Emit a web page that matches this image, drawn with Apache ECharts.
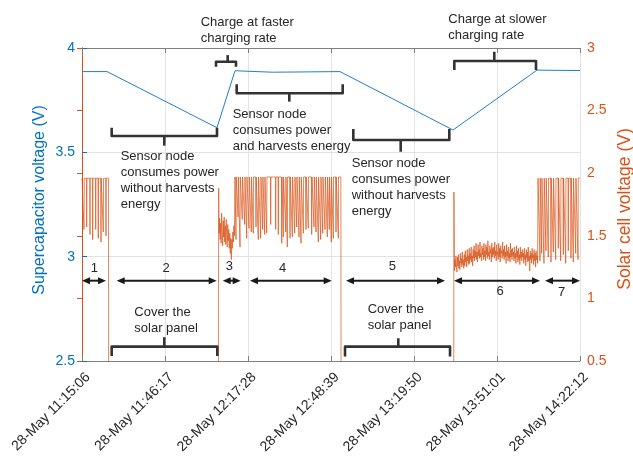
<!DOCTYPE html>
<html><head><meta charset="utf-8">
<script src="https://cdn.jsdelivr.net/npm/echarts@6/dist/echarts.min.js"></script>
<style>html,body{margin:0;padding:0;background:#fff}#c{width:633px;height:459px}</style>
</head><body><div id="c"></div>
<script>
// ---- time axis (seconds after 28-May 11:15:06) ----
const startSec = 40506;            // 11:15:06
const xTicks = [0, 1871, 3742, 5613, 7484, 9355, 11226];
const xMax = 11226;

// ---- supercapacitor voltage (left axis), [t, V] ----
const capTimes  = [0, 564, 3043, 3449, 4300, 5816, 8363, 10256, 11226];
const capValues = [3.887, 3.887, 3.618, 3.891, 3.884, 3.887, 3.607, 3.894, 3.892];

// ---- solar cell voltage (right axis) ----
const solarTop1 = 1.96, solarTop4 = 1.97, solarTop7 = 1.96, solarOff = 0.4;
const seg1SpikeT = [45, 106, 180, 241, 309, 367, 428, 480, 541];
const seg1SpikeV = [1.55, 1.57, 1.51, 1.47, 1.55, 1.48, 1.45, 1.53, 1.50];
const seg3Noise = [1.52,1.64,1.47,1.60,1.44,1.68,1.53,1.42,1.62,1.49,1.65,1.45,1.58,1.43,1.63,1.50,1.41,1.59,1.46,1.55,1.40,1.52,1.36,1.48,1.31,1.47,1.40,1.53,1.45,1.58,1.50];
const seg4SpikeT = [3471,3517,3562,3613,3668,3713,3765,3816,3861,3922,3974,4028,4073,4118,4163,4254,4366,4425,4502,4538,4592,4628,4689,4741,4795,4840,4892,4937,4989,5049,5101,5178,5230,5275,5327,5381,5426,5478,5530,5575,5620,5665,5726,5778];
const seg4SpikeV = [1.47,1.65,1.41,1.63,1.59,1.48,1.56,1.53,1.52,1.57,1.47,1.48,1.55,1.51,1.52,1.59,1.55,1.51,1.44,1.49,1.53,1.41,1.48,1.49,1.52,1.57,1.49,1.44,1.52,1.55,1.56,1.51,1.57,1.53,1.45,1.47,1.52,1.55,1.49,1.55,1.45,1.48,1.53,1.48];
const seg6Noise = [
1.22,1.31,1.25,1.34,1.27,1.21,1.33,1.26,1.35,1.24,1.30,1.23,1.36,1.28,1.32,1.25,1.37,1.27,1.31,1.24,
1.35,1.26,1.38,1.29,1.33,1.25,1.39,1.30,1.34,1.27,1.40,1.28,1.36,1.31,1.41,1.29,1.34,1.26,1.39,1.32,
1.42,1.30,1.38,1.33,1.44,1.31,1.37,1.29,1.43,1.34,1.39,1.32,1.45,1.33,1.36,1.30,1.42,1.35,1.40,1.31,
1.44,1.33,1.38,1.30,1.43,1.35,1.41,1.32,1.46,1.34,1.37,1.31,1.42,1.36,1.39,1.29,1.44,1.33,1.40,1.35,
1.41,1.32,1.45,1.34,1.38,1.30,1.43,1.35,1.37,1.31,1.44,1.33,1.40,1.29,1.42,1.36,1.38,1.32,1.45,1.34,
1.39,1.31,1.42,1.33,1.37,1.28,1.43,1.34,1.38,1.30,1.41,1.32,1.36,1.29,1.44,1.33,1.39,1.31,1.40,1.34,
1.37,1.30,1.41,1.32,1.36,1.28,1.42,1.33,1.38,1.29,1.40,1.31,1.35,1.27,1.41,1.32,1.37,1.30,1.39,1.33,
1.36,1.28,1.40,1.31,1.35,1.26,1.39,1.32,1.37,1.29,1.41,1.30,1.34,1.22,1.38,1.31,1.36,1.28,1.40,1.32,
1.35,1.27,1.39,1.30,1.36,1.25,1.38,1.31,1.34,1.28];
const seg7SpikeT = [10324,10362,10414,10459,10511,10572,10624,10678,10737,10791,10850,10904,10962,11023,11075,11129,11181];
const seg7SpikeV = [1.30,1.36,1.28,1.38,1.33,1.29,1.37,1.31,1.40,1.30,1.35,1.28,1.38,1.32,1.29,1.36,1.31];
// transition times / levels
const tCover1 = 597, tUncover1 = 3075, uncoverPeak1 = 1.88, tSeg3 = [3090, 3435], tSeg4 = 3449;
const tCover2 = 5835, tUncover2 = 8380, uncoverPeak2 = 1.85, tSeg6 = [8395, 10270], tSeg7 = 10280;

// ---- annotations (left-axis data units) ----
// braces: [x1, x2, xTip, yEnds, yBar, yTip]
const braces = [
  [3021, 3471, 3284, 3.910, 3.934, 3.966],
  [669, 3043, 1855, 3.618, 3.578, 3.532],
  [3487, 5877, 4673, 3.826, 3.783, 3.743],
  [6116, 8280, 7184, 3.612, 3.559, 3.503],
  [8393, 10234, 9294, 3.895, 3.938, 3.982],
  [669, 3050, 1855, 2.524, 2.569, 2.614],
  [5929, 8296, 7130, 2.521, 2.569, 2.609]
];
// arrows: [x1, x2, y]
const arrows = [
  [0, 541, 2.885], [782, 3036, 2.885], [3172, 3577, 2.885], [3787, 5629, 2.885],
  [5951, 8183, 2.885], [8386, 10324, 2.885], [10437, 11226, 2.885]
];
const phaseLabels = ['1','2','3','4','5','6','7'];
const phasePos = [[277,2.944],[1894,2.946],[3320,2.953],[4524,2.946],[6995,2.952],[9423,2.832],[10813,2.831]];
const noteTexts = [
  'Charge at faster\ncharging rate',
  'Sensor node\nconsumes power\nand harvests energy',
  'Sensor node\nconsumes power\nwithout harvests\nenergy',
  'Sensor node\nconsumes power\nwithout harvests\nenergy',
  'Charge at slower\ncharging rate',
  'Cover the\nsolar panel',
  'Cover the\nsolar panel'
];
const notePos = [[2676,4.121],[3397,3.684],[872,3.482],[6080,3.447],[8257,4.138],[1179,2.731],[6440,2.749]];

// ---- build series data ----
const capData = capTimes.map((t,i)=>[t, capValues[i]]);
function spikes(arr, ts, vs, top){ ts.forEach((t,i)=>{ arr.push([t-6, top],[t, vs[i]],[t+6, top]); }); }
function noise(arr, t0, t1, vs){ const n = vs.length; vs.forEach((v,i)=>arr.push([t0 + (t1-t0)*i/(n-1), v])); }
const solar = [[0, solarTop1]];
spikes(solar, seg1SpikeT, seg1SpikeV, solarTop1);
solar.push([tCover1, solarTop1],[tCover1+4, solarOff],[tUncover1, solarOff],[tUncover1+6, uncoverPeak1]);
noise(solar, tSeg3[0], tSeg3[1], seg3Noise);
solar.push([tSeg4, solarTop4]);
spikes(solar, seg4SpikeT, seg4SpikeV, solarTop4);
solar.push([tCover2, solarTop4],[tCover2+5, solarOff],[tUncover2, solarOff],[tUncover2+4, uncoverPeak2]);
noise(solar, tSeg6[0], tSeg6[1], seg6Noise);
solar.push([tSeg7, solarTop7]);
spikes(solar, seg7SpikeT, seg7SpikeV, solarTop7);
solar.push([xMax, solarTop7]);

const FONT = '"Liberation Sans", Arial, sans-serif';
const BLUE = '#0072BD', ORANGE = '#D95319', INK = '#262626';

function fmt(v){
  const s = Math.round(startSec + v);
  const h = Math.floor(s/3600), m = Math.floor((s%3600)/60), ss = s%60;
  const p = n => String(n).padStart(2,'0');
  return '28-May ' + p(h) + ':' + p(m) + ':' + p(ss);
}

const chart = echarts.init(document.getElementById('c'), null, {renderer:'canvas'});
chart.setOption({
  animation: false,
  backgroundColor: '#fff',
  grid: {left: 82, right: 53, top: 48, bottom: 98, containLabel: false, outerBoundsMode: 'none'},
  xAxis: [{
    type: 'value', min: 0, max: xMax, interval: 1871, position: 'bottom',
    axisLine: {lineStyle: {color: '#808080', width: 1}},
    axisTick: {inside: true, length: 5, lineStyle: {color: '#808080'}},
    axisLabel: {show: false},
    splitLine: {show: true, lineStyle: {color: '#e3e3e3', width: 1}}
  },{
    type: 'value', min: 0, max: xMax, interval: 1871, position: 'top',
    axisLine: {lineStyle: {color: '#808080', width: 1}},
    axisTick: {inside: true, length: 5, lineStyle: {color: '#808080'}},
    axisLabel: {show: false}, splitLine: {show: false}
  }],
  yAxis: [{
    type: 'value', min: 2.5, max: 4, interval: 0.5, position: 'left',
    name: 'Supercapacitor voltage (V)', nameLocation: 'middle', nameGap: 34, nameMoveOverlap: false,
    nameTextStyle: {color: BLUE, fontSize: 16, fontFamily: FONT, padding: [0, 0, 0, 9]},
    axisLine: {show: true, lineStyle: {color: BLUE}},
    axisTick: {show: true, inside: true, length: 5, lineStyle: {color: BLUE}},
    axisLabel: {color: BLUE, fontSize: 14, fontFamily: FONT, margin: 7},
    splitLine: {show: true, lineStyle: {color: '#e3e3e3'}}
  },{
    type: 'value', min: 0.5, max: 3, interval: 0.5, position: 'right',
    name: 'Solar cell voltage (V)', nameLocation: 'middle', nameGap: 36, nameMoveOverlap: false,
    nameTextStyle: {color: ORANGE, fontSize: 17.5, fontFamily: FONT, padding: [0, 9, 0, 0]},
    axisLine: {show: true, lineStyle: {color: ORANGE}},
    axisTick: {show: true, inside: true, length: 5, lineStyle: {color: ORANGE}},
    axisLabel: {color: ORANGE, fontSize: 14, fontFamily: FONT, margin: 7},
    splitLine: {show: false}
  }],
  series: [
    {type: 'line', name: 'solar', xAxisIndex: 0, yAxisIndex: 1, data: solar, showSymbol: false,
     sampling: null, lineStyle: {color: ORANGE, width: 0.7}, clip: true, z: 2},
    {type: 'line', name: 'cap', xAxisIndex: 0, yAxisIndex: 0, data: capData, showSymbol: false,
     lineStyle: {color: '#1f80c8', width: 1}, clip: true, z: 3},
    {type: 'custom', xAxisIndex: 0, yAxisIndex: 0, data: braces, z: 5, clip: false,
     renderItem: function(params, api){
       const a = api.coord([api.value(0), api.value(3)]), b = api.coord([api.value(0), api.value(4)]);
       const c = api.coord([api.value(1), api.value(4)]), d = api.coord([api.value(1), api.value(3)]);
       const m = api.coord([api.value(2), api.value(4)]), t = api.coord([api.value(2), api.value(5)]);
       const st = {stroke: '#333', lineWidth: 2.6, fill: null, lineJoin: 'round', lineCap: 'butt'};
       return {type: 'group', children: [
         {type: 'polyline', shape: {points: [a, b, c, d]}, style: st},
         {type: 'line', shape: {x1: m[0], y1: m[1], x2: t[0], y2: t[1]}, style: st}
       ]};
     }},
    {type: 'custom', xAxisIndex: 0, yAxisIndex: 0, data: arrows, z: 5, clip: false,
     renderItem: function(params, api){
       const p1 = api.coord([api.value(0), api.value(2)]), p2 = api.coord([api.value(1), api.value(2)]);
       const L = 8, W = 3.5, col = '#1a1a1a';
       return {type: 'group', children: [
         {type: 'line', shape: {x1: p1[0]+4, y1: p1[1], x2: p2[0]-4, y2: p2[1]}, style: {stroke: col, lineWidth: 2}},
         {type: 'polygon', shape: {points: [[p1[0], p1[1]], [p1[0]+L, p1[1]-W], [p1[0]+L, p1[1]+W]]}, style: {fill: col}},
         {type: 'polygon', shape: {points: [[p2[0], p2[1]], [p2[0]-L, p2[1]-W], [p2[0]-L, p2[1]+W]]}, style: {fill: col}}
       ]};
     }},
    {type: 'custom', xAxisIndex: 0, yAxisIndex: 0, data: phasePos, z: 6, clip: false,
     renderItem: function(params, api){
       const p = api.coord([api.value(0), api.value(1)]);
       return {type: 'text', x: p[0], y: p[1], style: {text: phaseLabels[params.dataIndex], fill: INK,
         fontSize: 13, fontFamily: FONT, align: 'center', verticalAlign: 'middle'}};
     }},
    {type: 'custom', xAxisIndex: 0, yAxisIndex: 0, data: notePos, z: 6, clip: false,
     renderItem: function(params, api){
       const p = api.coord([api.value(0), api.value(1)]);
       return {type: 'text', x: p[0], y: p[1] - 8, style: {text: noteTexts[params.dataIndex], fill: INK,
         fontSize: 13, fontFamily: FONT, lineHeight: 16, align: 'left', verticalAlign: 'top'}};
     }},
    // rotated time tick labels, anchored at each tick on the bottom axis
    {type: 'custom', xAxisIndex: 0, yAxisIndex: 0, data: xTicks.map(t => [t, 2.5]), z: 6, clip: false,
     renderItem: function(params, api){
       const p = api.coord([api.value(0), api.value(1)]);
       return {type: 'text', x: p[0] + 1, y: p[1] + 9, rotation: Math.PI / 4,
         style: {text: fmt(api.value(0)), fill: INK, fontSize: 14, fontFamily: FONT,
           align: 'right', verticalAlign: 'top'}};
     }}
  ]
});
</script></body></html>
